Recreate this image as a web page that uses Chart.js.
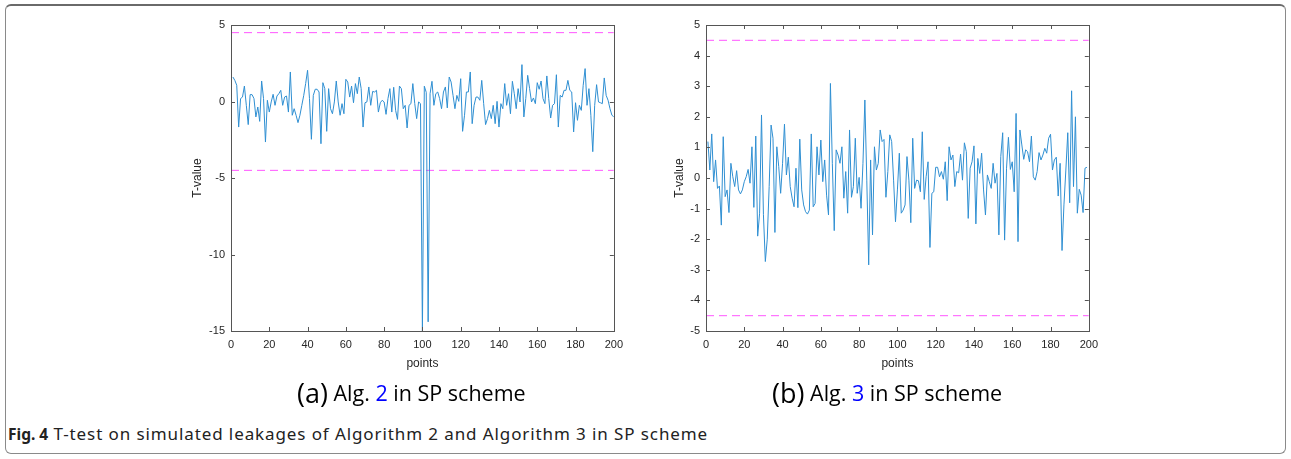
<!DOCTYPE html>
<html>
<head>
<meta charset="utf-8">
<script src="https://cdn.jsdelivr.net/npm/chart.js@4.4.1/dist/chart.umd.min.js"></script>
<style>
  html, body { margin: 0; padding: 0; background: #fff; }
  body { width: 1291px; height: 459px; position: relative; overflow: hidden; }
  #frame {
    position: absolute; left: 5px; top: 4px; width: 1281px; height: 450px;
    border: 1px solid #8a8a8a; border-top: 2px solid #6a6a6a; border-radius: 6px; box-sizing: border-box;
  }
  canvas { position: absolute; }
  #chartA { left: 180px; top: 10px; }
  #chartB { left: 655px; top: 10px; }
  .sub { position: absolute; top: 374px; font-family: "Open Sans", sans-serif; font-size: 21.5px; color: #000; white-space: nowrap; }
  .sub .par { font-size: 27px; vertical-align: -2px; }
  .sub .ref { color: #0000ff; }
  #capA { left: 297px; }
  #capB { left: 772px; }
  #fig { position: absolute; left: 8px; top: 422px; font-family: "Noto Sans", sans-serif; font-size: 17px; letter-spacing: 0.9px; color: #222; white-space: nowrap; }
  #fig b { font-weight: 700; font-size: 15.5px; letter-spacing: 0; }
</style>
</head>
<body>
<div id="frame"></div>
<canvas id="chartA" width="450" height="370"></canvas>
<canvas id="chartB" width="450" height="370"></canvas>
<div class="sub" id="capA"><span class="par">(a)</span> Alg. <span class="ref">2</span> in SP scheme</div>
<div class="sub" id="capB"><span class="par">(b)</span> Alg. <span class="ref">3</span> in SP scheme</div>
<div id="fig"><b>Fig. 4</b> T-test on simulated leakages of Algorithm 2 and Algorithm 3 in SP scheme</div>
<script>
// T-values of Algorithm 2 (points 1..200)
const tAlg2 = [
  1.6, 1.38, 1.06, -1.67, 0.19, 0.29, 1.01, -0.25, -1.51, 0.45,
  0.45, 0.19, -1.01, -0.36, -1.30, 1.34, 0.19, -2.65, 0.08, -0.69,
  -0.03, 0.47, -0.25, 0.36, 0.51, 0.73, -0.25, 0.29, 0.36, -0.69,
  1.93, -0.9, -0.47, -0.9, -1.38, -0.9, -0.25, 0.4, 1.17, 2.04,
  0.19, -2.47, 0.4, 0.8, 0.8, 0.62, -2.76, 1.23, 0.84, -1.95,
  0.84, -0.47, -0.8, -0.03, 1.34, -0.03, -0.9, -0.14, -0.8, 1.45,
  1.27, 0.29, 1.01, -0.08, 1.17, 0.51, 1.6, 0.84, -1.67, -0.08,
  -0.03, 0.95, -0.25, 0.66, 0.62, 0.73, -0.69, -0.08, 0.08, -0.03,
  -0.84, 0.19, 0.84, -0.69, 0.93, -0.58, -1.17, 1.01, 0.84, -0.47,
  -0.25, -1.73, -0.25, -0.14, 1.17, -0.14, -1.12, -0.03, -0.14, -15.0,
  1.0, 0.6, -14.4, 0.51, 1.32, -0.25, 0.51, 0.62, 0.19, -0.47,
  0.62, 0.95, -0.42, 1.6, 1.27, 0.4, -0.47, 0.4, 0.01, 1.49,
  -1.95, -0.9, 0.62, 0.62, 1.93, -1.45, -0.25, 0.29, 0.29, 0.08,
  1.38, -0.14, -1.51, -1.12, -0.58, -1.12, -0.25, -1.45, 0.01, -1.67,
  -0.14, -0.47, 1.17, -0.25, 0.51, -0.8, 1.32, 0.51, -0.47, 0.84,
  -0.03, 2.41, -1.01, 0.19, 1.71, 0.84, -0.03, 0.23, -0.14, 1.23,
  0.8, 1.34, 0.19, -0.14, 1.67, 0.19, -1.08, -0.25, -0.14, 1.75,
  -1.67, 0.4, 0.29, 0.73, 0.73, 1.38, 0.73, 0.62, -1.99, -0.08,
  -1.23, -0.25, -0.58, 1.06, 2.15, -0.25, 0.84, -0.9, -3.28, -0.25,
  1.1, -0.03, -0.08, -0.14, 1.54, 0.4, 0.08, -0.47, -0.9, -1.0
];

// T-values of Algorithm 3 (points 1..199)
const tAlg3 = [
  1.19, 0.26, 1.44, -0.12, 0.59, -0.34, -0.26, -1.54, 1.35, -0.61,
  -0.39, -1.13, 0.48, 0.04, -0.28, 0.24, -0.39, -0.52, -0.39, -0.12,
  0.04, 0.28, -0.17, 1.02, -0.96, 1.37, -1.9, -1.15, 2.06, -1.2,
  -2.73, -2.0, -0.28, 1.73, 1.3, -1.78, 1.02, 0.37, -0.5, 0.48,
  1.76, 0.1, 0.68, -0.28, -0.66, -0.94, 0.32, -0.97, 1.27, -0.39,
  -0.88, -1.1, -1.18, -1.05, 1.44, -0.94, -0.83, 1.02, 0.1, 1.24,
  -0.12, 0.59, -0.56, -1.21, 3.09, 0.48, -1.72, 0.92, 0.75, 0.48,
  1.02, -0.66, 0.21, -1.15, 1.57, -0.63, -0.28, 1.3, -0.5, 0.02,
  -0.99, 0.48, 2.55, -0.07, -2.84, 0.59, -1.86, 1.02, 0.26, 0.48,
  1.57, 1.19, 1.26, -0.63, 0.21, 1.41, 1.19, -0.07, -1.43, -0.39,
  0.81, -1.15, -1.05, -0.88, 0.7, -0.07, -1.46, 1.3, -0.34, -0.07,
  -0.09, -0.45, 1.51, -0.7, 0.04, 0.53, -2.27, -0.5, -0.45, 0.35,
  0.35, 0.04, 0.21, -0.04, 0.53, -0.74, 1.02, 0.59, 0.75, -0.28,
  0.21, 0.17, 0.78, -0.07, 1.15, 0.86, -1.32, 0.32, 0.53, 1.05,
  -1.5, 0.64, 0.15, 0.81, -0.39, -1.21, 0.1, -0.12, -0.34, 0.48,
  -0.17, 0.15, -1.86, 0.7, 1.48, -2.03, 0.32, 1.33, 0.28, 0.53,
  -0.45, 2.11, -2.08, 1.57, 1.08, 0.61, 0.92, 0.86, 0.53, 1.37,
  0.04, -0.07, 0.21, 0.83, 0.59, 0.75, 0.97, 0.81, 1.3, 1.43,
  0.26, 0.59, 0.68, -0.59, 0.48, -2.37, -0.88, 0.26, 1.48, -0.81,
  2.85, -0.28, 2.0, -1.15, -0.37, -0.56, -1.13, 0.32, 0.35
];

// Threshold lines (+/- 4.5) across the x range
const thresholdX = [0, 200];
const thresholdUpper = [4.5, 4.5];
const thresholdLower = [-4.5, -4.5];

const xTicksStep = 20;
const yRangeA = [-15, 5], yStepA = 5;
const yRangeB = [-5, 5], yStepB = 1;

const axisColor = '#555555';
const textColor = '#262626';
const lineBlue = '#2f8fd2';
const dashMagenta = '#ff55ff';

Chart.defaults.font.family = '"Liberation Sans", Arial, sans-serif';
Chart.defaults.color = textColor;

// MATLAB-like box with inward ticks
const boxTicks = {
  id: 'boxTicks',
  afterDraw(chart) {
    const { ctx, chartArea: a, scales } = chart;
    const len = 4;
    ctx.save();
    ctx.strokeStyle = axisColor;
    ctx.lineWidth = 1;
    ctx.beginPath();
    scales.x.ticks.forEach(t => {
      const px = Math.round(scales.x.getPixelForValue(t.value)) + 0.5;
      ctx.moveTo(px, a.bottom); ctx.lineTo(px, a.bottom - len);
      ctx.moveTo(px, a.top); ctx.lineTo(px, a.top + len);
    });
    scales.y.ticks.forEach(t => {
      const py = Math.round(scales.y.getPixelForValue(t.value)) + 0.5;
      ctx.moveTo(a.left, py); ctx.lineTo(a.left + len, py);
      ctx.moveTo(a.right, py); ctx.lineTo(a.right - len, py);
    });
    ctx.stroke();
    ctx.strokeRect(Math.round(a.left) + 0.5, Math.round(a.top) + 0.5,
      Math.round(a.right - a.left), Math.round(a.bottom - a.top));
    ctx.restore();
  }
};

function toPoints(values) {
  return values.map((v, i) => ({ x: i + 1, y: v }));
}

function makeChart(id, values, yRange, yStep, padRight, titlePadLeft) {
  const line = (xs, ys) => xs.map((x, i) => ({ x: x, y: ys[i] }));
  return new Chart(document.getElementById(id), {
    type: 'line',
    data: {
      datasets: [
        {
          data: toPoints(values),
          borderColor: lineBlue,
          borderWidth: 1,
          pointRadius: 0,
          tension: 0
        },
        {
          data: line(thresholdX, thresholdUpper),
          borderColor: dashMagenta,
          borderWidth: 1,
          borderDash: [8, 5],
          pointRadius: 0
        },
        {
          data: line(thresholdX, thresholdLower),
          borderColor: dashMagenta,
          borderWidth: 1,
          borderDash: [8, 5],
          pointRadius: 0
        }
      ]
    },
    options: {
      responsive: false,
      animation: false,
      layout: { padding: { top: 15, right: padRight, left: 0, bottom: 0 } },
      plugins: { legend: { display: false }, tooltip: { enabled: false } },
      scales: {
        x: {
          type: 'linear',
          min: 0,
          max: 200,
          grid: { display: false, drawTicks: false },
          border: { display: false },
          ticks: { stepSize: xTicksStep, padding: 7, maxRotation: 0, font: { size: 11 } },
          title: { display: true, text: 'points', font: { size: 12 }, padding: { top: 0, bottom: 9 } },
          afterFit: s => { s.height = 49; }
        },
        y: {
          min: yRange[0],
          max: yRange[1],
          grid: { display: false, drawTicks: false },
          border: { display: false },
          ticks: { stepSize: yStep, padding: 6, font: { size: 11 } },
          title: { display: true, text: 'T-value', font: { size: 12 }, padding: { top: titlePadLeft, bottom: 0 } },
          afterFit: s => { s.width = 51; }
        }
      }
    },
    plugins: [boxTicks]
  });
}

makeChart('chartA', tAlg2, yRangeA, yStepA, 11, 10);
makeChart('chartB', tAlg3, yRangeB, yStepB, 10, 17);
</script>
</body>
</html>
